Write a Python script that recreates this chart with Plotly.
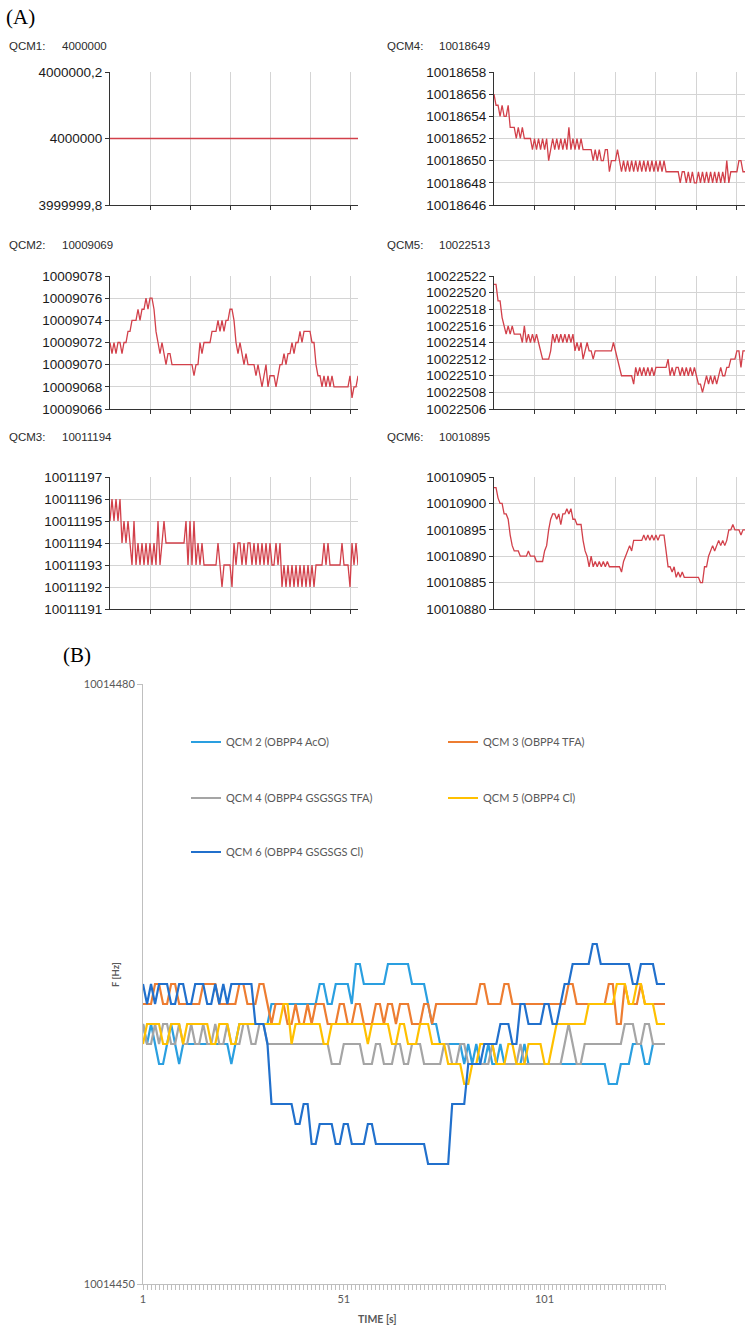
import plotly.graph_objects as go

# ---------------- DATA ----------------
# Panel A: six QCM channels, sample index 0..124
a_time = list(range(125))

qcm1_hz = [4000000] * 125

qcm2_hz = [
    10009072, 10009071, 10009072, 10009071, 10009072, 10009072, 10009071, 10009072, 10009072, 10009073,
    10009073, 10009074, 10009074, 10009074, 10009075, 10009074, 10009075, 10009075, 10009076, 10009075,
    10009076, 10009076, 10009075, 10009073, 10009072, 10009071, 10009072, 10009071, 10009070, 10009071,
    10009071, 10009070, 10009070, 10009070, 10009070, 10009070, 10009070, 10009070, 10009070, 10009070,
    10009070, 10009070, 10009069, 10009070, 10009070, 10009072, 10009071, 10009072, 10009072, 10009072,
    10009072, 10009073, 10009073, 10009073, 10009074, 10009073, 10009074, 10009073, 10009074, 10009074,
    10009075, 10009075, 10009074, 10009072, 10009071, 10009072, 10009071, 10009070, 10009071, 10009070,
    10009070, 10009070, 10009070, 10009069, 10009070, 10009069, 10009068, 10009069, 10009070, 10009068,
    10009069, 10009069, 10009069, 10009068, 10009069, 10009070, 10009070, 10009071, 10009070, 10009071,
    10009071, 10009072, 10009071, 10009072, 10009072, 10009073, 10009072, 10009073, 10009073, 10009073,
    10009073, 10009072, 10009072, 10009070, 10009069, 10009069, 10009068, 10009069, 10009068, 10009069,
    10009068, 10009069, 10009068, 10009068, 10009068, 10009068, 10009068, 10009068, 10009068, 10009068,
    10009069, 10009067, 10009068, 10009068, 10009069,
]

qcm3_hz = [
    10011195, 10011196, 10011195, 10011196, 10011195, 10011196, 10011194, 10011195, 10011194, 10011195,
    10011194, 10011193, 10011195, 10011193, 10011194, 10011193, 10011194, 10011193, 10011194, 10011193,
    10011194, 10011193, 10011194, 10011193, 10011195, 10011193, 10011194, 10011195, 10011194, 10011194,
    10011194, 10011194, 10011194, 10011194, 10011194, 10011194, 10011194, 10011194, 10011195, 10011193,
    10011195, 10011193, 10011195, 10011193, 10011194, 10011193, 10011194, 10011193, 10011193, 10011193,
    10011193, 10011193, 10011193, 10011193, 10011194, 10011193, 10011192, 10011193, 10011193, 10011193,
    10011193, 10011192, 10011194, 10011193, 10011194, 10011194, 10011193, 10011194, 10011193, 10011194,
    10011194, 10011193, 10011194, 10011193, 10011194, 10011193, 10011194, 10011193, 10011194, 10011193,
    10011194, 10011193, 10011193, 10011194, 10011193, 10011194, 10011192, 10011193, 10011192, 10011193,
    10011192, 10011193, 10011192, 10011193, 10011192, 10011193, 10011192, 10011193, 10011192, 10011193,
    10011192, 10011193, 10011192, 10011193, 10011193, 10011193, 10011193, 10011194, 10011193, 10011194,
    10011193, 10011193, 10011193, 10011193, 10011193, 10011193, 10011194, 10011193, 10011193, 10011193,
    10011192, 10011194, 10011193, 10011194, 10011193,
]

qcm4_hz = [
    10018656, 10018655, 10018655, 10018654, 10018655, 10018654, 10018654, 10018655, 10018653, 10018653,
    10018653, 10018652, 10018653, 10018652, 10018653, 10018652, 10018652, 10018652, 10018652, 10018651,
    10018652, 10018651, 10018652, 10018651, 10018652, 10018651, 10018652, 10018650, 10018651, 10018652,
    10018651, 10018652, 10018651, 10018652, 10018651, 10018652, 10018651, 10018653, 10018651, 10018652,
    10018651, 10018652, 10018651, 10018652, 10018651, 10018651, 10018651, 10018651, 10018651, 10018650,
    10018651, 10018650, 10018651, 10018650, 10018650, 10018651, 10018651, 10018649, 10018650, 10018650,
    10018650, 10018651, 10018650, 10018649, 10018650, 10018649, 10018650, 10018649, 10018650, 10018649,
    10018650, 10018649, 10018650, 10018649, 10018650, 10018649, 10018650, 10018649, 10018650, 10018649,
    10018650, 10018649, 10018650, 10018649, 10018650, 10018649, 10018649, 10018649, 10018649, 10018649,
    10018649, 10018649, 10018648, 10018649, 10018649, 10018648, 10018649, 10018648, 10018649, 10018648,
    10018648, 10018649, 10018648, 10018649, 10018648, 10018649, 10018648, 10018649, 10018648, 10018649,
    10018648, 10018649, 10018648, 10018649, 10018648, 10018650, 10018648, 10018649, 10018649, 10018649,
    10018649, 10018650, 10018650, 10018649, 10018649,
]

qcm5_hz = [
    10022521, 10022521, 10022519, 10022519, 10022517, 10022516, 10022515, 10022516, 10022515, 10022516,
    10022515, 10022515, 10022515, 10022515, 10022514, 10022516, 10022514, 10022515, 10022514, 10022515,
    10022514, 10022515, 10022514, 10022513, 10022512, 10022512, 10022512, 10022512, 10022513, 10022515,
    10022514, 10022515, 10022514, 10022515, 10022514, 10022515, 10022514, 10022515, 10022514, 10022515,
    10022513, 10022514, 10022513, 10022514, 10022512, 10022513, 10022514, 10022513, 10022513, 10022512,
    10022513, 10022513, 10022513, 10022513, 10022513, 10022513, 10022513, 10022513, 10022513, 10022514,
    10022513, 10022512, 10022511, 10022510, 10022510, 10022510, 10022510, 10022510, 10022510, 10022509,
    10022511, 10022510, 10022511, 10022510, 10022511, 10022510, 10022511, 10022510, 10022511, 10022510,
    10022511, 10022511, 10022511, 10022511, 10022511, 10022511, 10022512, 10022510, 10022511, 10022510,
    10022511, 10022511, 10022510, 10022511, 10022510, 10022511, 10022510, 10022511, 10022510, 10022511,
    10022510, 10022509, 10022509, 10022508, 10022509, 10022510, 10022509, 10022510, 10022509, 10022510,
    10022509, 10022510, 10022511, 10022510, 10022510, 10022511, 10022511, 10022512, 10022512, 10022512,
    10022513, 10022513, 10022511, 10022513, 10022513,
]

qcm6_hz = [
    10010903, 10010903, 10010901, 10010900, 10010900, 10010898, 10010898, 10010897, 10010894, 10010892,
    10010891, 10010891, 10010891, 10010890, 10010890, 10010890, 10010890, 10010891, 10010890, 10010890,
    10010890, 10010889, 10010889, 10010889, 10010889, 10010891, 10010892, 10010895, 10010897, 10010898,
    10010898, 10010897, 10010898, 10010896, 10010898, 10010898, 10010899, 10010898, 10010899, 10010897,
    10010897, 10010896, 10010896, 10010896, 10010893, 10010891, 10010890, 10010888, 10010890, 10010888,
    10010889, 10010888, 10010889, 10010888, 10010889, 10010888, 10010889, 10010888, 10010888, 10010888,
    10010888, 10010888, 10010888, 10010887, 10010889, 10010890, 10010891, 10010892, 10010891, 10010893,
    10010893, 10010893, 10010893, 10010893, 10010894, 10010893, 10010894, 10010893, 10010894, 10010893,
    10010894, 10010893, 10010894, 10010894, 10010894, 10010891, 10010888, 10010888, 10010887, 10010888,
    10010886, 10010887, 10010886, 10010887, 10010886, 10010886, 10010886, 10010886, 10010886, 10010886,
    10010886, 10010886, 10010885, 10010885, 10010888, 10010888, 10010890, 10010891, 10010892, 10010891,
    10010892, 10010893, 10010892, 10010893, 10010892, 10010893, 10010895, 10010895, 10010896, 10010895,
    10010895, 10010895, 10010894, 10010895, 10010895,
]

a_titles = ["QCM1:", "QCM2:", "QCM3:", "QCM4:", "QCM5:", "QCM6:"]
a_title_values = ["4000000", "10009069", "10011194", "10018649", "10022513", "10010895"]

a_ytick_vals = [
    [3999999.8, 4000000.0, 4000000.2],
    [10009066, 10009068, 10009070, 10009072, 10009074, 10009076, 10009078],
    [10011191, 10011192, 10011193, 10011194, 10011195, 10011196, 10011197],
    [10018646, 10018648, 10018650, 10018652, 10018654, 10018656, 10018658],
    [10022506, 10022508, 10022510, 10022512, 10022514, 10022516, 10022518, 10022520, 10022522],
    [10010880, 10010885, 10010890, 10010895, 10010900, 10010905],
]
a_ytick_text = [
    ["3999999,8", "4000000", "4000000,2"],
    [str(v) for v in a_ytick_vals[1]],
    [str(v) for v in a_ytick_vals[2]],
    [str(v) for v in a_ytick_vals[3]],
    [str(v) for v in a_ytick_vals[4]],
    [str(v) for v in a_ytick_vals[5]],
]
a_xgrid = [20, 40, 60, 80, 100, 120]

# Panel B: combined plot, time categories 1..131
time_s = list(range(1, 132))

b_qcm2 = [
    10014463, 10014462, 10014463, 10014462, 10014461, 10014461, 10014462, 10014463, 10014462, 10014461,
    10014462, 10014462, 10014462, 10014462, 10014462, 10014462, 10014462, 10014462, 10014462, 10014462,
    10014462, 10014462, 10014461, 10014462, 10014463, 10014463, 10014463, 10014463, 10014463, 10014463,
    10014463, 10014463, 10014464, 10014464, 10014464, 10014464, 10014464, 10014464, 10014464, 10014464,
    10014464, 10014464, 10014464, 10014464, 10014465, 10014465, 10014464, 10014464, 10014465, 10014465,
    10014465, 10014465, 10014464, 10014466, 10014466, 10014465, 10014465, 10014465, 10014465, 10014465,
    10014465, 10014466, 10014466, 10014466, 10014466, 10014466, 10014466, 10014465, 10014465, 10014465,
    10014465, 10014464, 10014463, 10014463, 10014462, 10014462, 10014462, 10014462, 10014462, 10014462,
    10014461, 10014462, 10014461, 10014462, 10014461, 10014461, 10014462, 10014461, 10014461, 10014462,
    10014461, 10014461, 10014461, 10014461, 10014461, 10014462, 10014461, 10014461, 10014461, 10014461,
    10014461, 10014461, 10014461, 10014461, 10014461, 10014461, 10014461, 10014461, 10014461, 10014461,
    10014461, 10014461, 10014461, 10014461, 10014461, 10014461, 10014460, 10014460, 10014460, 10014461,
    10014461, 10014461, 10014462, 10014462, 10014462, 10014461, 10014461, 10014462, 10014462, 10014462,
    10014462,
]

b_qcm3 = [
    10014464, 10014464, 10014464, 10014465, 10014465, 10014464, 10014464, 10014465, 10014465, 10014464,
    10014464, 10014464, 10014464, 10014464, 10014464, 10014465, 10014465, 10014465, 10014465, 10014464,
    10014464, 10014464, 10014464, 10014464, 10014465, 10014465, 10014464, 10014464, 10014464, 10014465,
    10014465, 10014464, 10014463, 10014464, 10014464, 10014464, 10014463, 10014463, 10014464, 10014463,
    10014463, 10014464, 10014463, 10014464, 10014464, 10014464, 10014463, 10014463, 10014463, 10014464,
    10014464, 10014463, 10014463, 10014464, 10014464, 10014463, 10014463, 10014463, 10014464, 10014464,
    10014463, 10014464, 10014464, 10014463, 10014464, 10014464, 10014464, 10014463, 10014463, 10014463,
    10014464, 10014464, 10014463, 10014464, 10014464, 10014464, 10014464, 10014464, 10014464, 10014464,
    10014464, 10014464, 10014464, 10014464, 10014465, 10014465, 10014464, 10014464, 10014464, 10014464,
    10014465, 10014465, 10014464, 10014464, 10014464, 10014464, 10014464, 10014464, 10014464, 10014464,
    10014464, 10014464, 10014464, 10014464, 10014464, 10014464, 10014465, 10014465, 10014464, 10014464,
    10014464, 10014464, 10014464, 10014464, 10014464, 10014464, 10014465, 10014465, 10014463, 10014463,
    10014465, 10014464, 10014464, 10014464, 10014465, 10014464, 10014464, 10014464, 10014464, 10014464,
    10014464,
]

b_qcm4 = [
    10014463, 10014462, 10014462, 10014463, 10014462, 10014463, 10014463, 10014462, 10014462, 10014463,
    10014462, 10014462, 10014463, 10014462, 10014462, 10014463, 10014462, 10014462, 10014463, 10014462,
    10014462, 10014463, 10014462, 10014462, 10014462, 10014463, 10014463, 10014462, 10014462, 10014463,
    10014463, 10014462, 10014462, 10014462, 10014462, 10014462, 10014462, 10014462, 10014462, 10014462,
    10014462, 10014462, 10014462, 10014462, 10014462, 10014462, 10014462, 10014461, 10014461, 10014461,
    10014462, 10014462, 10014462, 10014462, 10014462, 10014461, 10014461, 10014461, 10014462, 10014462,
    10014461, 10014461, 10014461, 10014462, 10014462, 10014461, 10014461, 10014462, 10014462, 10014462,
    10014461, 10014461, 10014461, 10014461, 10014461, 10014462, 10014462, 10014461, 10014461, 10014462,
    10014462, 10014461, 10014461, 10014461, 10014461, 10014461, 10014461, 10014462, 10014461, 10014461,
    10014461, 10014461, 10014461, 10014461, 10014462, 10014461, 10014461, 10014461, 10014461, 10014461,
    10014461, 10014461, 10014461, 10014461, 10014461, 10014462, 10014463, 10014462, 10014461, 10014461,
    10014462, 10014462, 10014462, 10014462, 10014462, 10014462, 10014462, 10014462, 10014462, 10014462,
    10014463, 10014463, 10014463, 10014462, 10014462, 10014463, 10014463, 10014462, 10014462, 10014462,
    10014462,
]

b_qcm5 = [
    10014462, 10014463, 10014463, 10014463, 10014463, 10014462, 10014462, 10014463, 10014463, 10014463,
    10014462, 10014463, 10014463, 10014463, 10014463, 10014463, 10014463, 10014462, 10014462, 10014463,
    10014463, 10014463, 10014462, 10014462, 10014463, 10014463, 10014463, 10014463, 10014463, 10014463,
    10014463, 10014463, 10014463, 10014463, 10014463, 10014464, 10014464, 10014462, 10014463, 10014463,
    10014463, 10014463, 10014463, 10014463, 10014463, 10014462, 10014462, 10014463, 10014463, 10014463,
    10014463, 10014463, 10014463, 10014463, 10014463, 10014463, 10014462, 10014463, 10014463, 10014463,
    10014463, 10014463, 10014462, 10014462, 10014463, 10014463, 10014462, 10014462, 10014462, 10014463,
    10014463, 10014463, 10014462, 10014462, 10014462, 10014462, 10014461, 10014461, 10014461, 10014461,
    10014460, 10014460, 10014461, 10014461, 10014462, 10014462, 10014462, 10014462, 10014461, 10014461,
    10014461, 10014462, 10014462, 10014461, 10014461, 10014461, 10014462, 10014462, 10014462, 10014462,
    10014461, 10014461, 10014462, 10014463, 10014463, 10014463, 10014463, 10014463, 10014463, 10014463,
    10014463, 10014464, 10014464, 10014464, 10014464, 10014464, 10014464, 10014464, 10014465, 10014465,
    10014465, 10014464, 10014464, 10014465, 10014465, 10014464, 10014464, 10014464, 10014463, 10014463,
    10014463,
]

b_qcm6 = [
    10014465, 10014464, 10014465, 10014464, 10014465, 10014465, 10014465, 10014464, 10014464, 10014465,
    10014465, 10014464, 10014464, 10014465, 10014465, 10014465, 10014464, 10014464, 10014465, 10014464,
    10014465, 10014464, 10014465, 10014465, 10014465, 10014465, 10014465, 10014465, 10014463, 10014463,
    10014463, 10014462, 10014459, 10014459, 10014459, 10014459, 10014459, 10014459, 10014458, 10014458,
    10014459, 10014459, 10014457, 10014457, 10014458, 10014458, 10014458, 10014458, 10014457, 10014457,
    10014458, 10014458, 10014457, 10014457, 10014457, 10014457, 10014458, 10014458, 10014457, 10014457,
    10014457, 10014457, 10014457, 10014457, 10014457, 10014457, 10014457, 10014457, 10014457, 10014457,
    10014457, 10014456, 10014456, 10014456, 10014456, 10014456, 10014456, 10014459, 10014459, 10014459,
    10014459, 10014461, 10014461, 10014461, 10014461, 10014462, 10014462, 10014462, 10014462, 10014463,
    10014463, 10014463, 10014462, 10014462, 10014464, 10014464, 10014463, 10014463, 10014463, 10014463,
    10014464, 10014464, 10014463, 10014463, 10014464, 10014465, 10014465, 10014466, 10014466, 10014466,
    10014466, 10014466, 10014467, 10014467, 10014466, 10014466, 10014466, 10014466, 10014466, 10014466,
    10014466, 10014466, 10014465, 10014465, 10014466, 10014466, 10014466, 10014466, 10014465, 10014465,
    10014465,
]

b_names = ["QCM 2 (OBPP4 AcO)", "QCM 3 (OBPP4 TFA)", "QCM 4 (OBPP4 GSGSGS TFA)",
           "QCM 5 (OBPP4 Cl)", "QCM 6 (OBPP4 GSGSGS Cl)"]
b_series = [b_qcm2, b_qcm3, b_qcm4, b_qcm5, b_qcm6]
b_colors = ["#2A9FE0", "#ED7D31", "#A5A5A5", "#FFC000", "#2170CC"]
b_legend = ["legend", "legend", "legend2", "legend2", "legend3"]
b_yticks = [10014450, 10014480]
b_xticks = [1, 51, 101]

# ---------------- LAYOUT HELPERS ----------------
W, H = 754, 1333


def fx(p):
    return p / W


def fy(p):
    return 1 - p / H


fig = go.Figure()

a_series = [qcm1_hz, qcm2_hz, qcm3_hz, qcm4_hz, qcm5_hz, qcm6_hz]
col_x = [(110, 358), (494, 745)]
row_y = [(72, 205), (276, 409), (477, 609)]
title_y = [46, 245, 437]
title_x = [(7, 60), (385, 437)]
positions = [(0, 0), (0, 1), (0, 2), (1, 0), (1, 1), (1, 2)]

annotations = []
layout_axes = {}
for k in range(6):
    c, r = positions[k]
    n = k + 1
    xa = "x" if n == 1 else f"x{n}"
    ya = "y" if n == 1 else f"y{n}"
    fig.add_trace(go.Scatter(
        x=a_time, y=a_series[k], mode="lines", xaxis=xa, yaxis=ya,
        line=dict(color="#D2404A", width=1.3), showlegend=False, hoverinfo="skip"))
    x0, x1 = col_x[c]
    y0, y1 = row_y[r]
    layout_axes["xaxis" if n == 1 else f"xaxis{n}"] = dict(
        domain=[fx(x0), fx(x1)], range=[0, 124], anchor=ya,
        tickvals=a_xgrid, showticklabels=False, ticks="outside", ticklen=4,
        tickcolor="#333333", showgrid=True, gridcolor="#D4D4D4", gridwidth=1,
        showline=True, linecolor="#333333", linewidth=1, zeroline=False, fixedrange=True)
    vals = a_ytick_vals[k]
    layout_axes["yaxis" if n == 1 else f"yaxis{n}"] = dict(
        domain=[fy(y1), fy(y0)], range=[vals[0], vals[-1]], anchor=xa,
        tickvals=vals, ticktext=a_ytick_text[k], ticks="outside", ticklen=4,
        tickcolor="#333333", showgrid=True, gridcolor="#D4D4D4", gridwidth=1,
        showline=True, linecolor="#333333", linewidth=1, zeroline=False,
        tickfont=dict(family="Liberation Sans, Arial", size=13.5, color="#1a1a1a"),
        fixedrange=True)
    tx0, tx1 = title_x[c]
    for txt, xx in ((a_titles[k], tx0), (a_title_values[k], tx1)):
        annotations.append(dict(
            text=txt, x=fx(xx), y=fy(title_y[r]), xref="paper", yref="paper",
            xanchor="left", yanchor="middle", showarrow=False,
            font=dict(family="Liberation Sans, Arial", size=11.5, color="#2b2b2b")))

# Panel B
for name, ser, col, lg in zip(b_names, b_series, b_colors, b_legend):
    fig.add_trace(go.Scatter(
        x=time_s, y=ser, mode="lines", name=name, xaxis="x7", yaxis="y7",
        line=dict(color=col, width=2.2), legend=lg, hoverinfo="skip"))

grey_txt = "#595959"
layout_axes["xaxis7"] = dict(
    domain=[fx(143), fx(665)], range=[1, 131], anchor="y7",
    tickvals=b_xticks, ticktext=[str(v) for v in b_xticks],
    ticks="outside", ticklen=5, tickcolor="#BFBFBF",
    minor=dict(ticks="outside", dtick=1, tick0=1, ticklen=5, tickcolor="#BFBFBF", showgrid=False),
    showgrid=False, showline=True, linecolor="#BFBFBF", linewidth=1, zeroline=False,
    tickfont=dict(family="Lato, Liberation Sans", size=11, color=grey_txt),
    fixedrange=True)
layout_axes["yaxis7"] = dict(
    domain=[fy(1284), fy(684)], range=[10014450, 10014480], anchor="x7",
    tickvals=b_yticks, ticktext=[str(v) for v in b_yticks],
    ticks="outside", ticklen=5, tickcolor="#BFBFBF",
    showgrid=True, gridcolor="#BFBFBF", showline=True, linecolor="#BFBFBF", linewidth=1,
    zeroline=False,
    tickfont=dict(family="Lato, Liberation Sans", size=11, color=grey_txt),
    fixedrange=True)

annotations.append(dict(text="<b>TIME [s]</b>", x=fx(377), y=fy(1319), xref="paper", yref="paper",
                        xanchor="center", yanchor="middle", showarrow=False,
                        font=dict(family="Lato, Liberation Sans", size=10.5, color=grey_txt)))
annotations.append(dict(text="<b>F [Hz]</b>", x=fx(115), y=fy(975), xref="paper", yref="paper",
                        xanchor="center", yanchor="middle", showarrow=False, textangle=-90,
                        font=dict(family="Lato, Liberation Sans", size=9.5, color=grey_txt)))
annotations.append(dict(text="(A)", x=fx(4), y=fy(17), xref="paper", yref="paper",
                        xanchor="left", yanchor="middle", showarrow=False,
                        font=dict(family="Liberation Serif, Times New Roman", size=21, color="#000")))
annotations.append(dict(text="(B)", x=fx(61), y=fy(655), xref="paper", yref="paper",
                        xanchor="left", yanchor="middle", showarrow=False,
                        font=dict(family="Liberation Serif, Times New Roman", size=21, color="#000")))

legend_common = dict(orientation="h", xanchor="left", yanchor="middle",
                     entrywidth=212, entrywidthmode="pixels", bgcolor="rgba(0,0,0,0)",
                     itemwidth=30, traceorder="normal",
                     font=dict(family="Lato, Liberation Sans", size=11, color=grey_txt))

fig.update_layout(
    width=W, height=H, autosize=False,
    margin=dict(l=0, r=0, t=0, b=0, pad=0, autoexpand=False),
    paper_bgcolor="white", plot_bgcolor="white",
    annotations=annotations,
    legend=dict(x=fx(186), y=fy(742), **legend_common),
    legend2=dict(x=fx(186), y=fy(798), **legend_common),
    legend3=dict(x=fx(186), y=fy(852), **legend_common),
    **layout_axes,
)

fig.write_html("out.html", config={"displayModeBar": False})
